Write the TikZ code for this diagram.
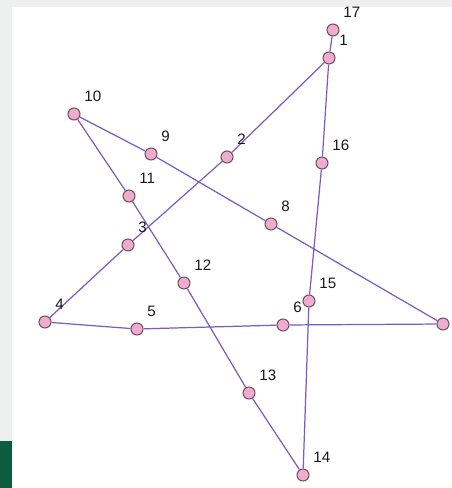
\documentclass[tikz,border=0pt]{standalone}
\usepackage{fontspec}
\setsansfont{Liberation Sans}
\usetikzlibrary{positioning}

\definecolor{edgepurple}{RGB}{122,92,196}
\definecolor{ptpink}{RGB}{240,172,206}
\definecolor{ptrim}{RGB}{110,80,90}
\definecolor{shotgray}{RGB}{238,240,240}
\definecolor{shotgreen}{RGB}{14,92,62}

\tikzset{
  pt/.style={circle, draw=ptrim, fill=ptpink, line width=0.6pt,
    minimum size=0.24cm, inner sep=0pt},
  lbl/.style={inner sep=0pt, font=\sffamily\fontsize{8.6}{9}\selectfont,
    text=black!90},
  edge/.style={draw=edgepurple, line width=0.7pt}
}

\begin{document}
\begin{tikzpicture}[x=0.02cm, y=-0.02cm]

% --- Screenshot frame ---
\useasboundingbox (0,0) rectangle (452,488);
\fill[shotgray] (0,0) rectangle (452,488);
\fill[white] (12,7) rectangle (452,488);
\fill[shotgreen] (0,441) rectangle (12,488);

% --- Points ---
\node[pt] (n17) at (333,30) {};
\node[pt] (n1) at (329,58) {};
\node[pt] (n2) at (227,157) {};
\node[pt] (n3) at (128,245) {};
\node[pt] (n4) at (45,322) {};
\node[pt] (n5) at (137,329) {};
\node[pt] (n6) at (283,325) {};
\node[pt] (n7) at (443,324) {};
\node[pt] (n8) at (271,224) {};
\node[pt] (n9) at (151,154) {};
\node[pt] (n10) at (74,114) {};
\node[pt] (n11) at (129,196) {};
\node[pt] (n12) at (184,283) {};
\node[pt] (n13) at (249,393) {};
\node[pt] (n14) at (303,475) {};
\node[pt] (n15) at (309,301) {};
\node[pt] (n16) at (322,163) {};

% --- Edges of the star ---
\begin{scope}[on background layer/.try]
\draw[edge] (n17) -- (n1) -- (n2) -- (n3) -- (n4) -- (n5) -- (n6) -- (n7)
  -- (n8) -- (n9) -- (n10) -- (n11) -- (n12) -- (n13) -- (n14) -- (n15)
  -- (n16) -- (n1);
\end{scope}

% --- Labels ---
\node[lbl, above right=0.15cm and 0.11cm of n17] (t17) {17};
\node[lbl, above right=0.15cm and 0.11cm of n1] (t1) {1};
\node[lbl, above right=0.15cm and 0.11cm of n2] (t2) {2};
\node[lbl, above right=0.15cm and 0.11cm of n3] (t3) {3};
\node[lbl, above right=0.15cm and 0.11cm of n4] (t4) {4};
\node[lbl, above right=0.15cm and 0.11cm of n5] (t5) {5};
\node[lbl, above right=0.15cm and 0.11cm of n6] (t6) {6};
\node[lbl, above right=0.15cm and 0.11cm of n8] (t8) {8};
\node[lbl, above right=0.15cm and 0.11cm of n9] (t9) {9};
\node[lbl, above right=0.15cm and 0.11cm of n10] (t10) {10};
\node[lbl, above right=0.15cm and 0.11cm of n11] (t11) {11};
\node[lbl, above right=0.15cm and 0.11cm of n12] (t12) {12};
\node[lbl, above right=0.15cm and 0.11cm of n13] (t13) {13};
\node[lbl, above right=0.15cm and 0.11cm of n14] (t14) {14};
\node[lbl, above right=0.15cm and 0.11cm of n15] (t15) {15};
\node[lbl, above right=0.15cm and 0.11cm of n16] (t16) {16};

\end{tikzpicture}
\end{document}
